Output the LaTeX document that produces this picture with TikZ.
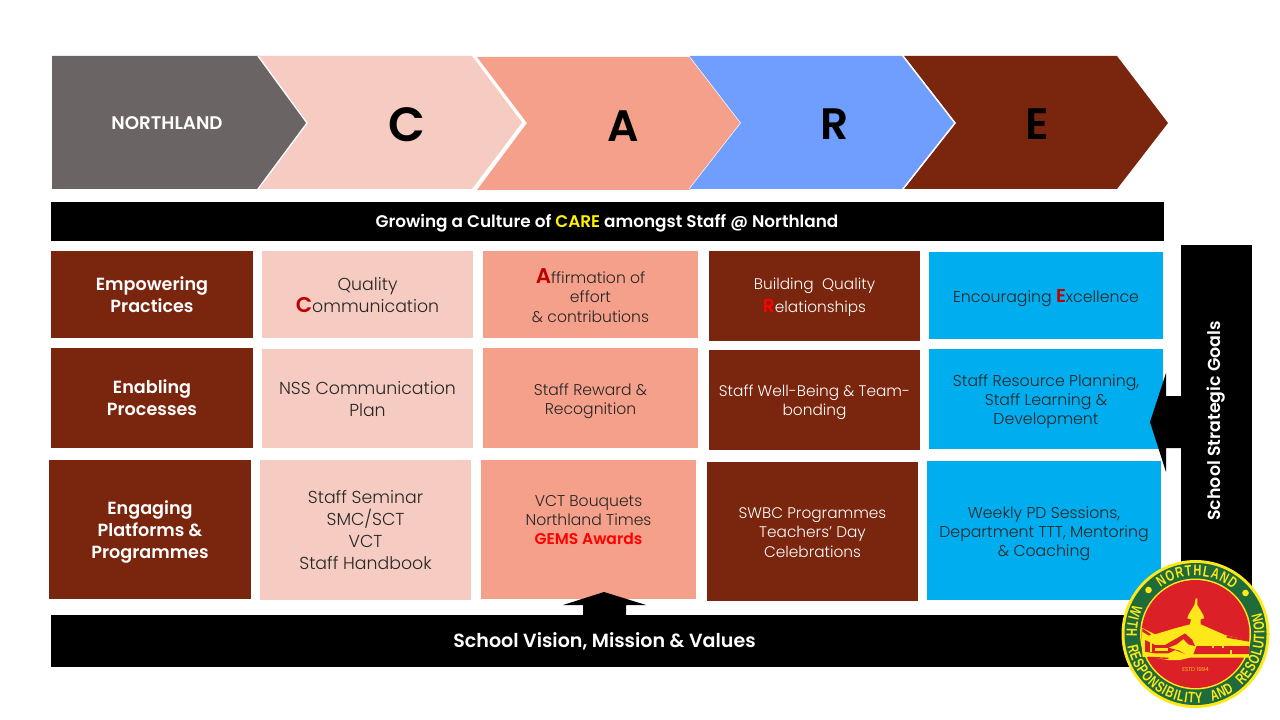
\documentclass[tikz,border=0pt]{standalone}
\usepackage{fontspec}
\setmainfont{Poppins}[UprightFont=* Light,BoldFont=* SemiBold]
\newfontfamily\logofont{Liberation Sans Bold}[FakeStretch=0.72]
\usetikzlibrary{decorations.text}
\definecolor{grayc}{HTML}{6B6464}
\definecolor{pinkc}{HTML}{F6CCC2}
\definecolor{salmonc}{HTML}{F4A08A}
\definecolor{bluec}{HTML}{6F9EFF}
\definecolor{brownc}{HTML}{7A250D}
\definecolor{skyc}{HTML}{00AEEF}
\definecolor{redc}{HTML}{C00000}
\definecolor{logored}{HTML}{DC2027}
\definecolor{logogreen}{HTML}{1F6B3A}
\definecolor{logoyel}{HTML}{FFE81A}
\newcommand{\fs}[2]{\fontsize{#1}{#2}\selectfont}
\tikzset{
 x=0.75pt,y=-0.75pt,
 sep/.style={draw=white,line width=1pt,line join=miter},
 cell/.style={rectangle,inner sep=0pt,outer sep=0pt,align=center,anchor=north west},
 head/.style={cell,fill=brownc,text=white,font=\fs{13.2}{16.5}\bfseries},
 txtc/.style={cell,fill=pinkc,text=black!85,font=\fs{13}{16.5}},
 txta/.style={cell,fill=salmonc,text=black!85,font=\fs{11.7}{14.4}},
 txtr/.style={cell,fill=brownc,text=white,font=\fs{11.5}{14.4}},
 txte/.style={cell,fill=skyc,text=black!85,font=\fs{11.8}{14.4}},
 bar/.style={rectangle,fill=black,inner sep=0pt,anchor=north west},
 bartxt/.style={text=white,font=\fs{#1}{16}\bfseries,inner sep=0pt},
 ring/.style={decorate,decoration={text along path,text align=fit to path,text={|\fs{11.4}{12}\logofont\color{logoyel}|#1}}},
}
\newcommand{\boxnode}[6]{% name style x0 y0 x1 y1
 \node[#2,minimum width=(#5-#3)*0.75pt,minimum height=(#6-#4)*0.75pt] (#1) at (#3,#4) {};}
\newcommand{\cellnode}[8]{% name style x0 y0 x1 y1 text dy
 \boxnode{#1}{#2}{#3}{#4}{#5}{#6}
 \node[#2,fill=none,anchor=center] (#1t) at ([yshift=-#8*0.75pt]#1.center) {#7};}
\begin{document}
\begin{tikzpicture}
\useasboundingbox (0,0) rectangle (1280,720);
\fill[white] (0,0) rectangle (1280,720);
% chevrons
\fill[grayc] (52,56)--(260,56)--(309,123)--(260,189)--(52,189)--cycle;
\fill[salmonc] (477,57)--(690,57)--(742,123)--(690,190)--(477,190)--(527,123)--cycle;
\fill[pinkc] (258,56)--(472,56)--(522,122.5)--(472,189)--(258,189)--(307,123)--cycle;
\draw[sep] (258,56)--(307,123)--(258,189);
\fill[brownc] (904,56)--(1117,56)--(1168,123)--(1117,189)--(904,189)--(956,123)--cycle;
\fill[bluec] (689,56)--(902,56)--(954,123)--(902,189)--(689,189)--(740.5,123)--cycle;
\draw[sep,line width=0.4pt] (689,56)--(740.5,123)--(689,189);
\draw[sep] (903,56)--(955,123)--(903,189);
\node[text=white,font=\fs{13.7}{16}\bfseries,inner sep=0pt] (north) at (167,123.5) {NORTHLAND};
\node[font=\fs{36}{40}\bfseries,inner sep=0pt] (lc) at (407,125) {C};
\node[font=\fs{33}{40}\bfseries,inner sep=0pt] (la) at (623.5,126) {A};
\node[font=\fs{33}{40}\bfseries,inner sep=0pt] (lr) at (835,124) {R};
\node[font=\fs{33}{40}\bfseries,inner sep=0pt] (le) at (1037,124) {E};
% bars
\boxnode{culture}{bar}{51}{202}{1164}{241}
\node[bartxt=12.65] (culturetxt) at (607,223.5) {Growing a Culture of \textcolor{yellow}{CARE} amongst Staff @ Northland};
\boxnode{vision}{bar}{51}{615}{1158}{667}
\node[bartxt=14.3] (visiontxt) at (604.5,641) {School Vision, Mission \& Values};
\boxnode{goals}{bar}{1181}{245}{1252}{600}
\node[bartxt=13.05,rotate=90] (goalstxt) at (1216,421) {School Strategic Goals};
% row 1
\cellnode{h1}{head}{51}{251}{253}{338}{Empowering\\Practices}{0}
\cellnode{c1}{txtc}{262}{251}{473}{338}{Quality\\{\fs{16}{16.5}\bfseries\textcolor{redc}{C}}ommunication}{1}
\cellnode{a1}{txta}{483}{251}{698}{338}{{\fs{16}{14.4}\bfseries\textcolor{redc}{A}}ffirmation of\\effort\\\& contributions}{1}
\cellnode{r1}{txtr}{709}{251}{920}{341}{Building \ Quality\\[3pt]{\fs{14}{14.4}\bfseries\textcolor{red}{R}}elationships}{1.5}
\cellnode{e1}{txte}{929}{252}{1163}{339}{Encouraging {\fs{14}{14.4}\bfseries\textcolor{redc}{E}}xcellence}{3}
% row 2
\cellnode{h2}{head}{51}{348}{253}{448}{Enabling\\Processes}{0}
\cellnode{c2}{txtc}{262}{349}{473}{448}{NSS Communication\\Plan}{1}
\cellnode{a2}{txta}{483}{348}{698}{448}{Staff Reward \&\\Recognition}{3}
\cellnode{r2}{txtr}{709}{350}{920}{450}{Staff Well-Being \& Team-\\bonding}{2}
\cellnode{e2}{txte}{929}{349}{1163}{449}{Staff Resource Planning,\\Staff Learning \&\\Development}{2.5}
% row 3
\cellnode{h3}{head}{49}{460}{251}{599}{Engaging\\Platforms \&\\Programmes}{2}
\cellnode{c3}{txtc}{260}{460}{471}{600}{Staff Seminar\\SMC/SCT\\VCT\\Staff Handbook}{0}
\cellnode{a3}{txta}{481}{460}{696}{599}{VCT Bouquets\\Northland Times\\\textcolor{red}{\bfseries GEMS Awards}}{-9.5}
\cellnode{r3}{txtr}{707}{462}{918}{601}{SWBC Programmes\\Teachers' Day\\Celebrations}{1}
\cellnode{e3}{txte}{927}{461}{1161}{600}{Weekly PD Sessions,\\Department TTT, Mentoring\\\& Coaching}{3}
% block arrows
\fill[black] (1181,396)--(1166,396)--(1166,373)--(1150,422)--(1166,472)--(1166,448)--(1181,448)--cycle;
\fill[black] (583,616)--(583,605)--(563,605)--(604,592)--(646,605)--(626,605)--(626,616)--cycle;
% logo
\begin{scope}[shift={(1195.5,634)}]
\fill[logoyel] (0,0) circle[radius=74];
\fill[logogreen] (0,0) circle[radius=71];
\fill[logoyel] (0,0) circle[radius=55.5];
\fill[logored] (0,0) circle[radius=54];
\node[text=logoyel,font=\fs{4.2}{5},inner sep=0pt] (estd) at (0,35) {ESTD 1994};
\fill[logoyel] (-47,-44) circle[radius=3.3];
\fill[logoyel] (50,-41) circle[radius=3.3];
% building, in the crop's own coordinates
\begin{scope}[shift={(-60.5,-49)},x=0.25pt,y=-0.25pt]
\fill[logoyel] (182,40)--(187,40)--(187,60)--(205,90)--(207,100)--(197,103)--(197,118)--(270,150)--(342,167)--(342,218)--(165,218)--(135,225)--(100,225)--(55,218)--(22,215)--(20,128)--(60,148)--(120,130)--(165,118)--(168,103)--(157,100)--(160,90)--(178,60)--cycle;
\fill[logored] (185,183)--(342,183)--(342,207)--(175,207)--cycle;
\fill[logoyel] (230,170) rectangle (236,190);
\fill[logoyel] (262,170) rectangle (268,190);
\fill[logoyel] (285,195) rectangle (292,207);
\fill[logored] (275,152)--(342,165)--(342,170)--(275,158)--cycle;
\fill[logored] (30,165)--(60,180)--(90,180)--(125,160)--(150,145)--(172,165)--(180,183)--(160,178)--(145,162)--(125,178)--(100,188)--(130,196)--(150,207)--(120,195)--(100,205)--(60,205)--(30,200)--cycle;
\fill[logoyel] (45,170) rectangle (52,200);
\fill[logoyel] (60,190) -- (100,190) -- (100,197) -- (60,197) -- cycle;
\fill[logored] (22,130)--(48,148)--(42,152)--(22,140)--cycle;
\fill[logored] (40,215)--(100,218)--(100,222)--(40,219)--cycle;
\end{scope}
% ring lettering, in ordinary upward coordinates
\begin{scope}[y=0.75pt]
\path[ring=NORTHLAND] (127:58) arc[start angle=127,end angle=50,radius=58];
\path[ring=WITH] (155:69) arc[start angle=155,end angle=182,radius=69];
\path[ring=RESPONSIBILITY] (190:69) arc[start angle=190,end angle=276,radius=69];
\path[ring=AND] (284:69) arc[start angle=284,end angle=304,radius=69];
\path[ring=RESOLUTION] (312:69) arc[start angle=312,end angle=378,radius=69];
\end{scope}
\end{scope}
\end{tikzpicture}
\end{document}
